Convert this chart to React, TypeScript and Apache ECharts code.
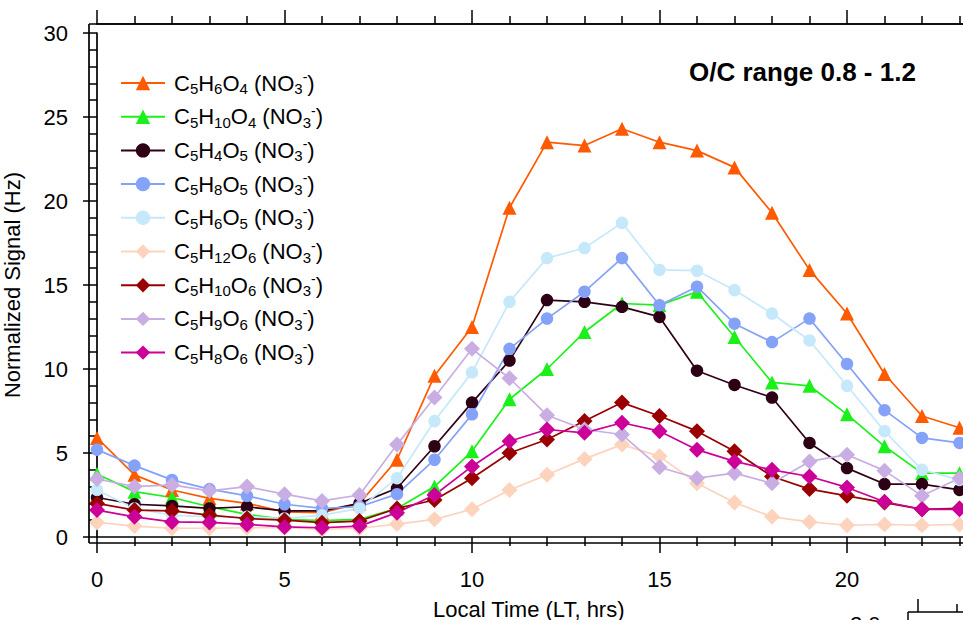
import React, { useEffect, useRef } from 'react';
import * as echarts from 'echarts';

const hours = [0, 1, 2, 3, 4, 5, 6, 7, 8, 9, 10, 11, 12, 13, 14, 15, 16, 17, 18, 19, 20, 21, 22, 23];

const formulas = ['C5H6O4', 'C5H10O4', 'C5H4O5', 'C5H8O5', 'C5H6O5', 'C5H12O6', 'C5H10O6', 'C5H9O6', 'C5H8O6'];

const C5H6O4 = [5.9, 3.7, 2.8, 2.3, 2.0, 1.5, 1.45, 2.0, 4.6, 9.6, 12.5, 19.6, 23.5, 23.3, 24.3, 23.5, 23.0, 22.0, 19.3, 15.9, 13.3, 9.7, 7.2, 6.5];
const C5H10O4 = [3.75, 2.7, 2.35, 1.8, 1.35, 1.05, 0.97, 1.05, 1.7, 3.0, 5.1, 8.2, 10.0, 12.2, 13.9, 13.8, 14.6, 11.9, 9.2, 9.0, 7.3, 5.4, 3.8, 3.8];
const C5H4O5 = [2.35, 1.95, 1.85, 1.7, 1.8, 1.55, 1.55, 2.0, 2.9, 5.4, 8.0, 10.5, 14.1, 14.0, 13.7, 13.1, 9.9, 9.05, 8.3, 5.6, 4.1, 3.15, 3.15, 2.8];
const C5H8O5 = [5.2, 4.25, 3.4, 2.85, 2.45, 1.95, 1.7, 1.8, 2.55, 4.6, 7.3, 11.2, 13.0, 14.6, 16.6, 13.8, 14.9, 12.7, 11.6, 13.0, 10.3, 7.55, 5.9, 5.6];
const C5H6O5 = [2.8, 1.7, 1.3, 1.2, 1.2, 1.1, 1.3, 1.7, 3.5, 6.9, 9.8, 14.0, 16.6, 17.2, 18.7, 15.9, 15.85, 14.7, 13.3, 11.7, 9.0, 6.3, 4.0, 3.4];
const C5H12O6 = [0.87, 0.65, 0.52, 0.52, 0.55, 0.55, 0.46, 0.52, 0.77, 1.05, 1.65, 2.8, 3.7, 4.65, 5.5, 4.8, 3.2, 2.05, 1.2, 0.9, 0.7, 0.75, 0.7, 0.75];
const C5H10O6 = [2.0, 1.6, 1.55, 1.3, 1.1, 1.0, 0.85, 0.95, 1.7, 2.2, 3.5, 5.0, 5.8, 6.9, 8.0, 7.2, 6.3, 5.1, 3.6, 2.85, 2.45, 2.05, 1.65, 1.7];
const C5H9O6 = [3.45, 3.0, 3.1, 2.75, 3.0, 2.55, 2.15, 2.5, 5.5, 8.3, 11.2, 9.45, 7.25, 6.4, 6.1, 4.15, 3.5, 3.8, 3.2, 4.5, 4.9, 3.95, 2.45, 3.5];
const C5H8O6 = [1.6, 1.2, 0.9, 0.87, 0.75, 0.6, 0.55, 0.65, 1.45, 2.5, 4.2, 5.7, 6.4, 6.2, 6.8, 6.3, 5.2, 4.5, 4.0, 3.6, 2.95, 2.1, 1.65, 1.65];

const seriesValues = [C5H6O4, C5H10O4, C5H4O5, C5H8O5, C5H6O5, C5H12O6, C5H10O6, C5H9O6, C5H8O6];
const colors = ['#ff5a00', '#1bf01b', '#2e0016', '#85a2f9', '#c6e8fb', '#fdd3bd', '#990000', '#c9aee3', '#cc0099'];
const symbols = ['triangle', 'triangle', 'circle', 'circle', 'circle', 'diamond', 'diamond', 'diamond', 'diamond'];
const symbolSizes = [14, 14, 12.5, 12.5, 12.5, 16, 16, 16, 16];

const xTitle = 'Local Time (LT, hrs)';
const yTitle = 'Normalized Signal (Hz)';
const chartTitle = 'O/C range 0.8 - 1.2';

const FONT = 'Liberation Sans, Arial, sans-serif';

function seriesName(f: string) {
  return f + ' (NO3-)';
}

function richFormula(f: string) {
  let out = '';
  const re = /([A-Z][a-z]?)(\d*)/g;
  let m: RegExpExecArray | null;
  while ((m = re.exec(f)) !== null) {
    if (!m[0]) break;
    out += `{n|${m[1]}}`;
    if (m[2]) out += `{s|${m[2]}}`;
  }
  out += '{n| (NO}{s|3}{p|-}{n|)}';
  return out;
}

export default function App() {
  const ref = useRef<HTMLDivElement>(null);
  useEffect(() => {
    if (!ref.current) return;
    const chart = echarts.init(ref.current, null, { renderer: 'svg' });
    const nameMap: Record<string, string> = {};
    formulas.forEach((f) => {
      nameMap[seriesName(f)] = richFormula(f);
    });
    const axisCommon = {
      type: 'value' as const,
      min: 0,
      max: 25,
      interval: 5,
      gridIndex: 0,
    };
    const option: any = {
      animation: false,
      backgroundColor: '#ffffff',
      textStyle: { fontFamily: FONT },
      title: {
        text: chartTitle,
        left: 689,
        top: 59,
        padding: 0,
        textStyle: { fontFamily: FONT, fontSize: 26, fontWeight: 'bold', color: '#000' },
      },
      grid: { left: 97, width: 937.5, top: 33, height: 504, containLabel: false, outerBoundsMode: 'none' },
      legend: {
        orient: 'vertical',
        left: 120,
        top: 70,
        padding: 0,
        itemWidth: 44,
        itemHeight: 18,
        itemGap: 7.7,
        data: formulas.map(seriesName),
        formatter: (name: string) => nameMap[name] || name,
        textStyle: {
          fontFamily: FONT,
          color: '#000',
          padding: [0, 0, 0, 4],
          rich: {
            n: { fontFamily: FONT, fontSize: 22, lineHeight: 26, color: '#000' },
            s: { fontFamily: FONT, fontSize: 15, lineHeight: 15, verticalAlign: 'bottom', color: '#000' },
            p: { fontFamily: FONT, fontSize: 14, lineHeight: 12, verticalAlign: 'top', color: '#000' },
          },
        },
      },
      xAxis: [
        {
          ...axisCommon,
          position: 'bottom',
          offset: 6,
          name: xTitle,
          nameLocation: 'middle',
          nameGap: 55,
          nameTextStyle: { fontFamily: FONT, fontSize: 22, color: '#000', padding: [0, 74, 0, 0] },
          axisLine: { show: true, lineStyle: { color: '#000', width: 1.7 } },
          axisTick: { show: true, length: 16, lineStyle: { color: '#000', width: 1.5 } },
          minorTick: { show: true, splitNumber: 5, length: 9, lineStyle: { color: '#000', width: 1.5 } },
          axisLabel: { fontFamily: FONT, fontSize: 22, color: '#000', margin: 25, showMaxLabel: false },
          splitLine: { show: false },
        },
        {
          ...axisCommon,
          position: 'top',
          offset: 9,
          axisLine: { show: true, lineStyle: { color: '#000', width: 1.7 } },
          axisTick: { show: true, length: 14, lineStyle: { color: '#000', width: 1.5 } },
          minorTick: { show: true, splitNumber: 5, length: 8, lineStyle: { color: '#000', width: 1.5 } },
          axisLabel: { show: false },
          splitLine: { show: false },
        },
      ],
      yAxis: {
        type: 'value',
        min: 0,
        max: 30,
        interval: 5,
        offset: 8,
        name: yTitle,
        nameLocation: 'middle',
        nameGap: 66,
        nameTextStyle: { fontFamily: FONT, fontSize: 22, color: '#000' },
        axisLine: { show: true, lineStyle: { color: '#000', width: 1.7 } },
        axisTick: { show: true, length: 14, lineStyle: { color: '#000', width: 1.5 } },
        minorTick: { show: true, splitNumber: 5, length: 8, lineStyle: { color: '#000', width: 1.5 } },
        axisLabel: { fontFamily: FONT, fontSize: 22, color: '#000', margin: 21 },
        splitLine: { show: false },
      },
      graphic: [
        { type: 'line', z: 100, shape: { x1: 89, y1: 24, x2: 963, y2: 24 }, style: { stroke: '#000', lineWidth: 1.7 } },
        { type: 'line', z: 100, shape: { x1: 89, y1: 543, x2: 963, y2: 543 }, style: { stroke: '#000', lineWidth: 1.7 } },
        { type: 'line', z: 100, shape: { x1: 89, y1: 24, x2: 89, y2: 543 }, style: { stroke: '#000', lineWidth: 1.7 } },
        { type: 'text', z: 100, x: 850, y: 613, style: { text: '2.0', fontFamily: FONT, fontSize: 22, fill: '#000' } },
        { type: 'line', z: 100, shape: { x1: 908, y1: 612, x2: 963, y2: 612 }, style: { stroke: '#000', lineWidth: 1.5 } },
        { type: 'line', z: 100, shape: { x1: 908, y1: 612, x2: 908, y2: 620 }, style: { stroke: '#000', lineWidth: 1.5 } },
        { type: 'line', z: 100, shape: { x1: 918, y1: 599, x2: 918, y2: 612 }, style: { stroke: '#000', lineWidth: 1.5 } },
        { type: 'line', z: 100, shape: { x1: 957, y1: 604, x2: 957, y2: 612 }, style: { stroke: '#000', lineWidth: 1.5 } },
      ],
      series: formulas.map((f, i) => ({
        name: seriesName(f),
        type: 'line',
        xAxisIndex: 0,
        yAxisIndex: 0,
        data: hours.map((h, j) => [h, seriesValues[i][j]]),
        symbol: symbols[i],
        symbolSize: symbolSizes[i],
        showAllSymbol: true,
        clip: false,
        color: colors[i],
        itemStyle: { color: colors[i] },
        lineStyle: { color: colors[i], width: 1.7 },
        emphasis: { disabled: true },
      })),
    };
    chart.setOption(option);
    return () => chart.dispose();
  }, []);
  return (
    <div
      ref={ref}
      style={{ position: 'fixed', left: 0, top: 0, width: 963, height: 620, background: '#fff', overflow: 'hidden' }}
    />
  );
}
